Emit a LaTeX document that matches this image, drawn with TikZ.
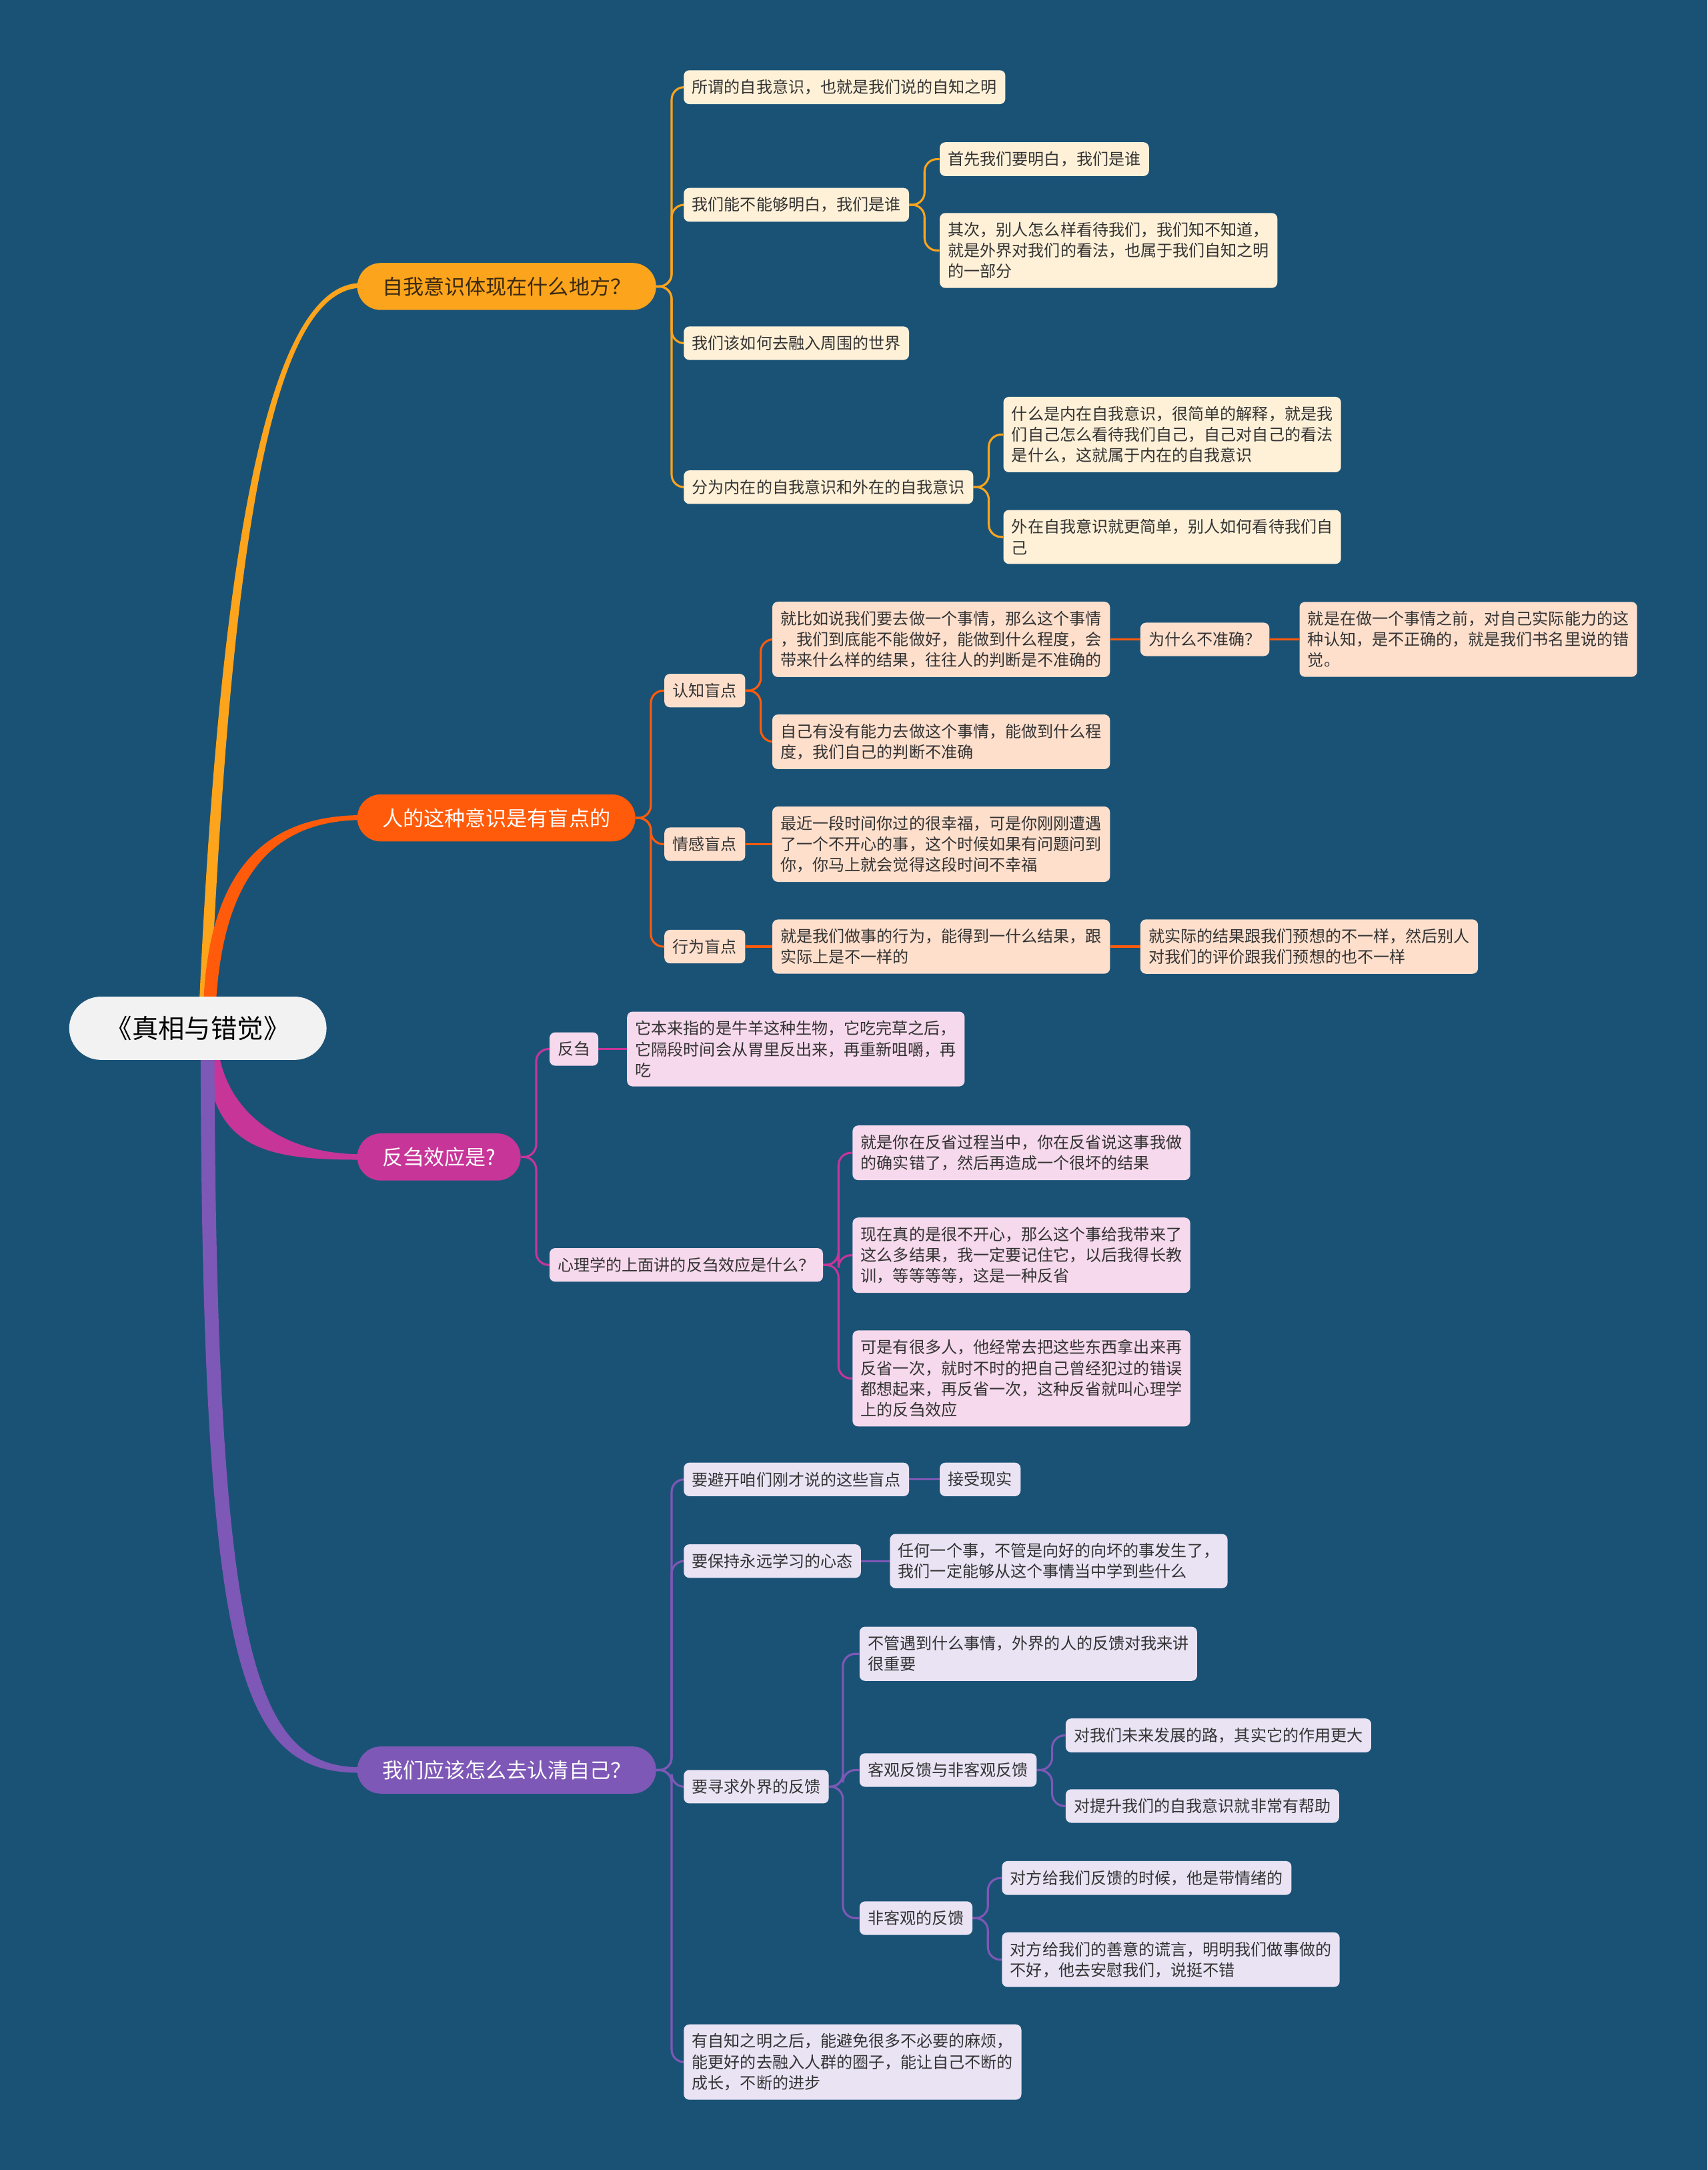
\documentclass[tikz,border=0pt]{standalone}
\usepackage{fontspec}
\setmainfont{Noto Sans CJK SC}
\usepackage{xcolor}
\usepackage{tikz}
\definecolor{bgblue}{HTML}{1A5276}
\definecolor{cA}{HTML}{FBA41C}
\definecolor{lA}{HTML}{FFF1D8}
\definecolor{tA}{HTML}{3B2A12}
\definecolor{cB}{HTML}{FF5B0B}
\definecolor{lB}{HTML}{FEDFCC}
\definecolor{cC}{HTML}{C73598}
\definecolor{lC}{HTML}{F6D9EC}
\definecolor{cD}{HTML}{7E58B6}
\definecolor{lD}{HTML}{E9E3F4}
\definecolor{rootgray}{HTML}{F2F2F2}
\definecolor{leaftext}{HTML}{333333}
\pgfdeclarelayer{back}
\pgfdeclarelayer{lines}
\pgfsetlayers{back,lines,main}

\begin{document}
\begin{tikzpicture}[
    x=1pt, y=-1pt,
    font=\fontsize{11.6}{15}\selectfont,
    topic/.style={rounded corners=23pt, fill=rootgray, text=black, inner xsep=26.5pt, inner ysep=14pt, font=\fontsize{19}{22}\selectfont},
    branch/.style={anchor=west, rounded corners=17pt, inner xsep=18pt, inner ysep=10pt, text=white, font=\fontsize{15}{18}\selectfont},
    leaf/.style={anchor=west, rounded corners=4pt, align=left, inner xsep=6pt, inner ysep=6.7pt, text=leaftext},
    link/.style={line width=1.5pt, rounded corners=9pt}
]
    \begin{pgfonlayer}{back}
        \fill[bgblue] (0,0) rectangle (1234,1568);
    \end{pgfonlayer}
    \useasboundingbox (0,0) rectangle (1234,1568);

    \node[topic] (root) at (143,743) {《真相与错觉》};

    \node[branch, fill=cA, text=tA] (self) at (258,207) {自我意识体现在什么地方？};
    \node[branch, fill=cB] (blind) at (258,591) {人的这种意识是有盲点的};
    \node[branch, fill=cC] (rumin) at (258,836) {反刍效应是?};
    \node[branch, fill=cD] (know) at (258,1279) {我们应该怎么去认清自己？};

    \node[leaf, fill=lA] (selfa) at (494,63) {所谓的自我意识，也就是我们说的自知之明};
    \node[leaf, fill=lA] (selfb) at (494,148) {我们能不能够明白，我们是谁};
    \node[leaf, fill=lA] (selfba) at (679,115) {首先我们要明白，我们是谁};
    \node[leaf, fill=lA] (selfbb) at (679,181) {其次，别人怎么样看待我们，我们知不知道，\\就是外界对我们的看法，也属于我们自知之明\\的一部分};
    \node[leaf, fill=lA] (selfc) at (494,248) {我们该如何去融入周围的世界};
    \node[leaf, fill=lA] (selfd) at (494,352) {分为内在的自我意识和外在的自我意识};
    \node[leaf, fill=lA] (selfda) at (725,314) {什么是内在自我意识，很简单的解释，就是我\\们自己怎么看待我们自己，自己对自己的看法\\是什么，这就属于内在的自我意识};
    \node[leaf, fill=lA] (selfdb) at (725,388) {外在自我意识就更简单，别人如何看待我们自\\己};

    \node[leaf, fill=lB] (cogn) at (480,499) {认知盲点};
    \node[leaf, fill=lB] (cogna) at (558,462) {就比如说我们要去做一个事情，那么这个事情\\，我们到底能不能做好，能做到什么程度，会\\带来什么样的结果，往往人的判断是不准确的};
    \node[leaf, fill=lB] (why) at (824,462) {为什么不准确？};
    \node[leaf, fill=lB] (whya) at (939,462) {就是在做一个事情之前，对自己实际能力的这\\种认知，是不正确的，就是我们书名里说的错\\觉。};
    \node[leaf, fill=lB] (cognb) at (558,536) {自己有没有能力去做这个事情，能做到什么程\\度，我们自己的判断不准确};
    \node[leaf, fill=lB] (emot) at (480,610) {情感盲点};
    \node[leaf, fill=lB] (emota) at (558,610) {最近一段时间你过的很幸福，可是你刚刚遭遇\\了一个不开心的事，这个时候如果有问题问到\\你，你马上就会觉得这段时间不幸福};
    \node[leaf, fill=lB] (act) at (480,684) {行为盲点};
    \node[leaf, fill=lB] (acta) at (558,684) {就是我们做事的行为，能得到一什么结果，跟\\实际上是不一样的};
    \node[leaf, fill=lB] (actb) at (824,684) {就实际的结果跟我们预想的不一样，然后别人\\对我们的评价跟我们预想的也不一样};

    \node[leaf, fill=lC] (chew) at (397,758) {反刍};
    \node[leaf, fill=lC] (chewa) at (453,758) {它本来指的是牛羊这种生物，它吃完草之后，\\它隔段时间会从胃里反出来，再重新咀嚼，再\\吃};
    \node[leaf, fill=lC] (psy) at (397,914) {心理学的上面讲的反刍效应是什么？};
    \node[leaf, fill=lC] (psya) at (616,833) {就是你在反省过程当中，你在反省说这事我做\\的确实错了，然后再造成一个很坏的结果};
    \node[leaf, fill=lC] (psyb) at (616,907) {现在真的是很不开心，那么这个事给我带来了\\这么多结果，我一定要记住它，以后我得长教\\训，等等等等，这是一种反省};
    \node[leaf, fill=lC] (psyc) at (616,996) {可是有很多人，他经常去把这些东西拿出来再\\反省一次，就时不时的把自己曾经犯过的错误\\都想起来，再反省一次，这种反省就叫心理学\\上的反刍效应};

    \node[leaf, fill=lD] (avoid) at (494,1069) {要避开咱们刚才说的这些盲点};
    \node[leaf, fill=lD] (avoida) at (679,1069) {接受现实};
    \node[leaf, fill=lD] (learn) at (494,1128) {要保持永远学习的心态};
    \node[leaf, fill=lD] (learna) at (643,1128) {任何一个事，不管是向好的向坏的事发生了，\\我们一定能够从这个事情当中学到些什么};
    \node[leaf, fill=lD] (seek) at (494,1291) {要寻求外界的反馈};
    \node[leaf, fill=lD] (seeka) at (621,1195) {不管遇到什么事情，外界的人的反馈对我来讲\\很重要};
    \node[leaf, fill=lD] (seekb) at (621,1279) {客观反馈与非客观反馈};
    \node[leaf, fill=lD] (seekba) at (770,1254) {对我们未来发展的路，其实它的作用更大};
    \node[leaf, fill=lD] (seekbb) at (770,1305) {对提升我们的自我意识就非常有帮助};
    \node[leaf, fill=lD] (seekc) at (621,1386) {非客观的反馈};
    \node[leaf, fill=lD] (seekca) at (724,1357) {对方给我们反馈的时候，他是带情绪的};
    \node[leaf, fill=lD] (seekcb) at (724,1416) {对方给我们的善意的谎言，明明我们做事做的\\不好，他去安慰我们，说挺不错};
    \node[leaf, fill=lD] (wise) at (494,1490) {有自知之明之后，能避免很多不必要的麻烦，\\能更好的去融入人群的圈子，能让自己不断的\\成长，不断的进步};

    \begin{pgfonlayer}{lines}
    % main branches
    \fill[cA] ([xshift=1pt,yshift=-6pt]root.north) .. controls (158,420) and (190,204.5) .. ([xshift=3pt,yshift=2.5pt]self.west) -- ([xshift=3pt,yshift=-1pt]self.west) .. controls (192,209) and (166,420) .. ([xshift=9pt,yshift=-6pt]root.north) -- cycle;
    \fill[cB] ([xshift=4pt,yshift=-6pt]root.north) .. controls (151,630) and (190,589.5) .. ([xshift=3pt,yshift=2pt]blind.west) -- ([xshift=3pt,yshift=-1.5pt]blind.west) .. controls (192,593) and (161,640) .. ([xshift=13pt,yshift=-6pt]root.north) -- cycle;
    \fill[cC] ([xshift=6pt,yshift=6pt]root.south) .. controls (152,832) and (195,838) .. ([xshift=3pt,yshift=-2pt]rumin.west) -- ([xshift=3pt,yshift=2pt]rumin.west) .. controls (205,834) and (165,805) .. ([xshift=15pt,yshift=6pt]root.south) -- cycle;
    \fill[cD] ([xshift=2pt,yshift=6pt]root.south) .. controls (146,1215) and (175,1281) .. ([xshift=3pt,yshift=-2pt]know.west) -- ([xshift=3pt,yshift=2pt]know.west) .. controls (185,1277) and (156,1200) .. ([xshift=12pt,yshift=6pt]root.south) -- cycle;

    \draw[link, cA] (self.east) -- ++(11,0) |- (selfa.west);
    \draw[link, cA] (self.east) -- ++(11,0) |- (selfb.west);
    \draw[link, cA] (self.east) -- ++(11,0) |- (selfc.west);
    \draw[link, cA] (self.east) -- ++(11,0) |- (selfd.west);
    \draw[link, cA] (selfb.east) -- ++(11,0) |- (selfba.west);
    \draw[link, cA] (selfb.east) -- ++(11,0) |- (selfbb.west);
    \draw[link, cA] (selfd.east) -- ++(11,0) |- (selfda.west);
    \draw[link, cA] (selfd.east) -- ++(11,0) |- (selfdb.west);

    \draw[link, cB] (blind.east) -- ++(11,0) |- (cogn.west);
    \draw[link, cB] (blind.east) -- ++(11,0) |- (emot.west);
    \draw[link, cB] (blind.east) -- ++(11,0) |- (act.west);
    \draw[link, cB] (cogn.east) -- ++(11,0) |- (cogna.west);
    \draw[link, cB] (cogn.east) -- ++(11,0) |- (cognb.west);
    \draw[link, cB] (cogna.east) -- (why.west);
    \draw[link, cB] (why.east) -- (whya.west);
    \draw[link, cB] (emot.east) -- (emota.west);
    \draw[link, cB] (act.east) -- (acta.west);
    \draw[link, cB] (acta.east) -- (actb.west);

    \draw[link, cC] (rumin.east) -- ++(11,0) |- (chew.west);
    \draw[link, cC] (rumin.east) -- ++(11,0) |- (psy.west);
    \draw[link, cC] (chew.east) -- (chewa.west);
    \draw[link, cC] (psy.east) -- ++(11,0) |- (psya.west);
    \draw[link, cC] (psy.east) -- ++(11,0) |- (psyb.west);
    \draw[link, cC] (psy.east) -- ++(11,0) |- (psyc.west);

    \draw[link, cD] (know.east) -- ++(11,0) |- (avoid.west);
    \draw[link, cD] (know.east) -- ++(11,0) |- (learn.west);
    \draw[link, cD] (know.east) -- ++(11,0) |- (seek.west);
    \draw[link, cD] (know.east) -- ++(11,0) |- (wise.west);
    \draw[link, cD] (avoid.east) -- (avoida.west);
    \draw[link, cD] (learn.east) -- (learna.west);
    \draw[link, cD] (seek.east) -- ++(10,0) |- (seeka.west);
    \draw[link, cD] (seek.east) -- ++(10,0) |- (seekb.west);
    \draw[link, cD] (seek.east) -- ++(10,0) |- (seekc.west);
    \draw[link, cD] (seekb.east) -- ++(11,0) |- (seekba.west);
    \draw[link, cD] (seekb.east) -- ++(11,0) |- (seekbb.west);
    \draw[link, cD] (seekc.east) -- ++(11,0) |- (seekca.west);
    \draw[link, cD] (seekc.east) -- ++(11,0) |- (seekcb.west);
    \end{pgfonlayer}
\end{tikzpicture}
\end{document}
